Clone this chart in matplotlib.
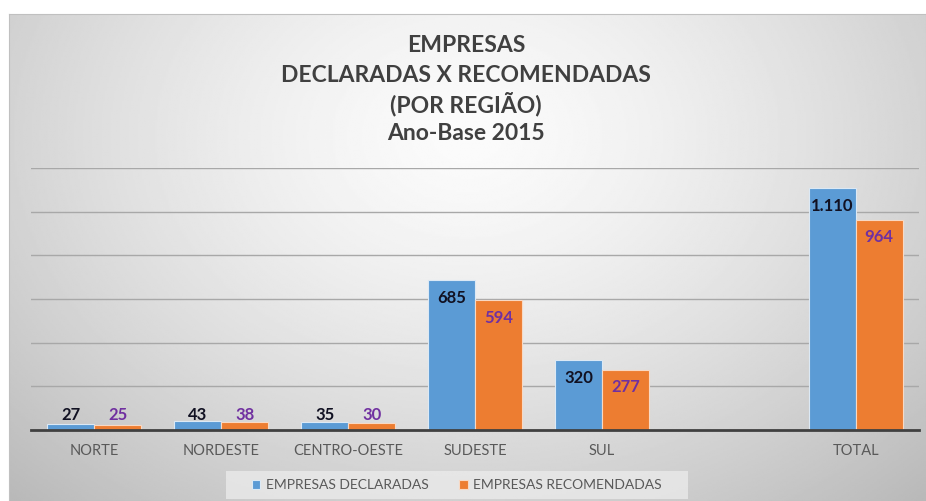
import numpy as np
import matplotlib
matplotlib.use("Agg")
from matplotlib import pyplot as plt
from matplotlib.patches import Rectangle

# data
regioes = ['NORTE', 'NORDESTE', 'CENTRO-OESTE', 'SUDESTE', 'SUL', '', 'TOTAL']
declaradas = [27, 43, 35, 685, 320, None, 1110]
recomendadas = [25, 38, 30, 594, 277, None, 964]
rotulos_decl = ['27', '43', '35', '685', '320', '', '1.110']
rotulos_rec = ['25', '38', '30', '594', '277', '', '964']

titulo = ['EMPRESAS', 'DECLARADAS X RECOMENDADAS', '(POR REGIÃO)', 'Ano-Base 2015']

plt.rcParams['font.family'] = ['Lato', 'DejaVu Sans']

fig = plt.figure(figsize=(9.26, 5.01), dpi=100)
fig.patch.set_facecolor('white')

# background frame with radial gradient
bg = fig.add_axes([9 / 926, 0, 1 - 9 / 926, (501 - 14) / 501], zorder=0)
yy, xx = np.mgrid[0:1:300j, 0:1:500j]
r = np.sqrt(((xx - 0.5) / 0.6) ** 2 + ((yy - 0.75) / 0.85) ** 2)
grad = 0.985 - 0.2 * np.clip(r, 0, 1.3) ** 1.4
bg.imshow(grad, cmap='gray', vmin=0, vmax=1, aspect='auto', origin='lower',
          extent=[0, 1, 0, 1])
bg.set_xlim(0, 1)
bg.set_ylim(0, 1)
for s in bg.spines.values():
    s.set_color('#c0c0c0')
bg.set_xticks([])
bg.set_yticks([])

# legend backdrop
bg.add_patch(Rectangle(((226 - 9) / 917, 2 / 487), (688 - 226) / 917, 28 / 487,
                       facecolor='#ececec', edgecolor='none', alpha=0.75))

ax = fig.add_axes([31 / 926, 1 - 430 / 501, (919 - 31) / 926, (430 - 168) / 501], zorder=1)
ax.patch.set_alpha(0)

x = np.arange(len(regioes))
w = 0.37
azul = '#5B9BD5'
laranja = '#ED7D31'
d = [v if v is not None else 0 for v in declaradas]
rr = [v if v is not None else 0 for v in recomendadas]
ax.bar(x - w / 2, d, w, color=azul, edgecolor='#dce9f5', linewidth=0.8,
       label='EMPRESAS DECLARADAS', zorder=3)
ax.bar(x + w / 2, rr, w, color=laranja, edgecolor='#f8d9c4', linewidth=0.8,
       label='EMPRESAS RECOMENDADAS', zorder=3)

for i in range(len(regioes)):
    if declaradas[i] is None:
        continue
    ax.text(x[i] - w / 2, max(declaradas[i] - 82, 69), rotulos_decl[i],
            ha='center', va='center', fontsize=12, fontweight='bold',
            color='#111122', zorder=4)
    ax.text(x[i] + w / 2, max(recomendadas[i] - 82, 69), rotulos_rec[i],
            ha='center', va='center', fontsize=12, fontweight='bold',
            color='#7030A0', zorder=4)

ax.set_xlim(-0.5, len(regioes) - 0.5)
ax.set_ylim(0, 1200)
ax.set_yticks([200, 400, 600, 800, 1000, 1200])
ax.yaxis.grid(True, color='#a8a8a8', linewidth=1)
ax.set_axisbelow(True)
ax.tick_params(axis='y', left=False, labelleft=False)
ax.set_xticks(x)
ax.set_xticklabels(regioes, fontsize=10.5, color='#595959')
ax.tick_params(axis='x', length=0, pad=10)
for s in ['top', 'right', 'left']:
    ax.spines[s].set_visible(False)
ax.spines['bottom'].set_color('#404040')
ax.spines['bottom'].set_linewidth(2)
ax.spines['bottom'].set_zorder(5)

for k, linha in enumerate(titulo):
    fig.text(466 / 926, 1 - (46 + 29 * k) / 501, linha, ha='center', va='center',
             fontsize=16.5, fontweight='bold', color='#404040')

leg = ax.legend(loc='center', bbox_to_anchor=(457 / 926, 1 - 485 / 501),
                bbox_transform=fig.transFigure, ncol=2, frameon=False,
                fontsize=10, handlelength=0.6, handleheight=0.6,
                handletextpad=0.4, columnspacing=2.2)
for t in leg.get_texts():
    t.set_color('#595959')

fig.savefig('out.png', dpi=100)
